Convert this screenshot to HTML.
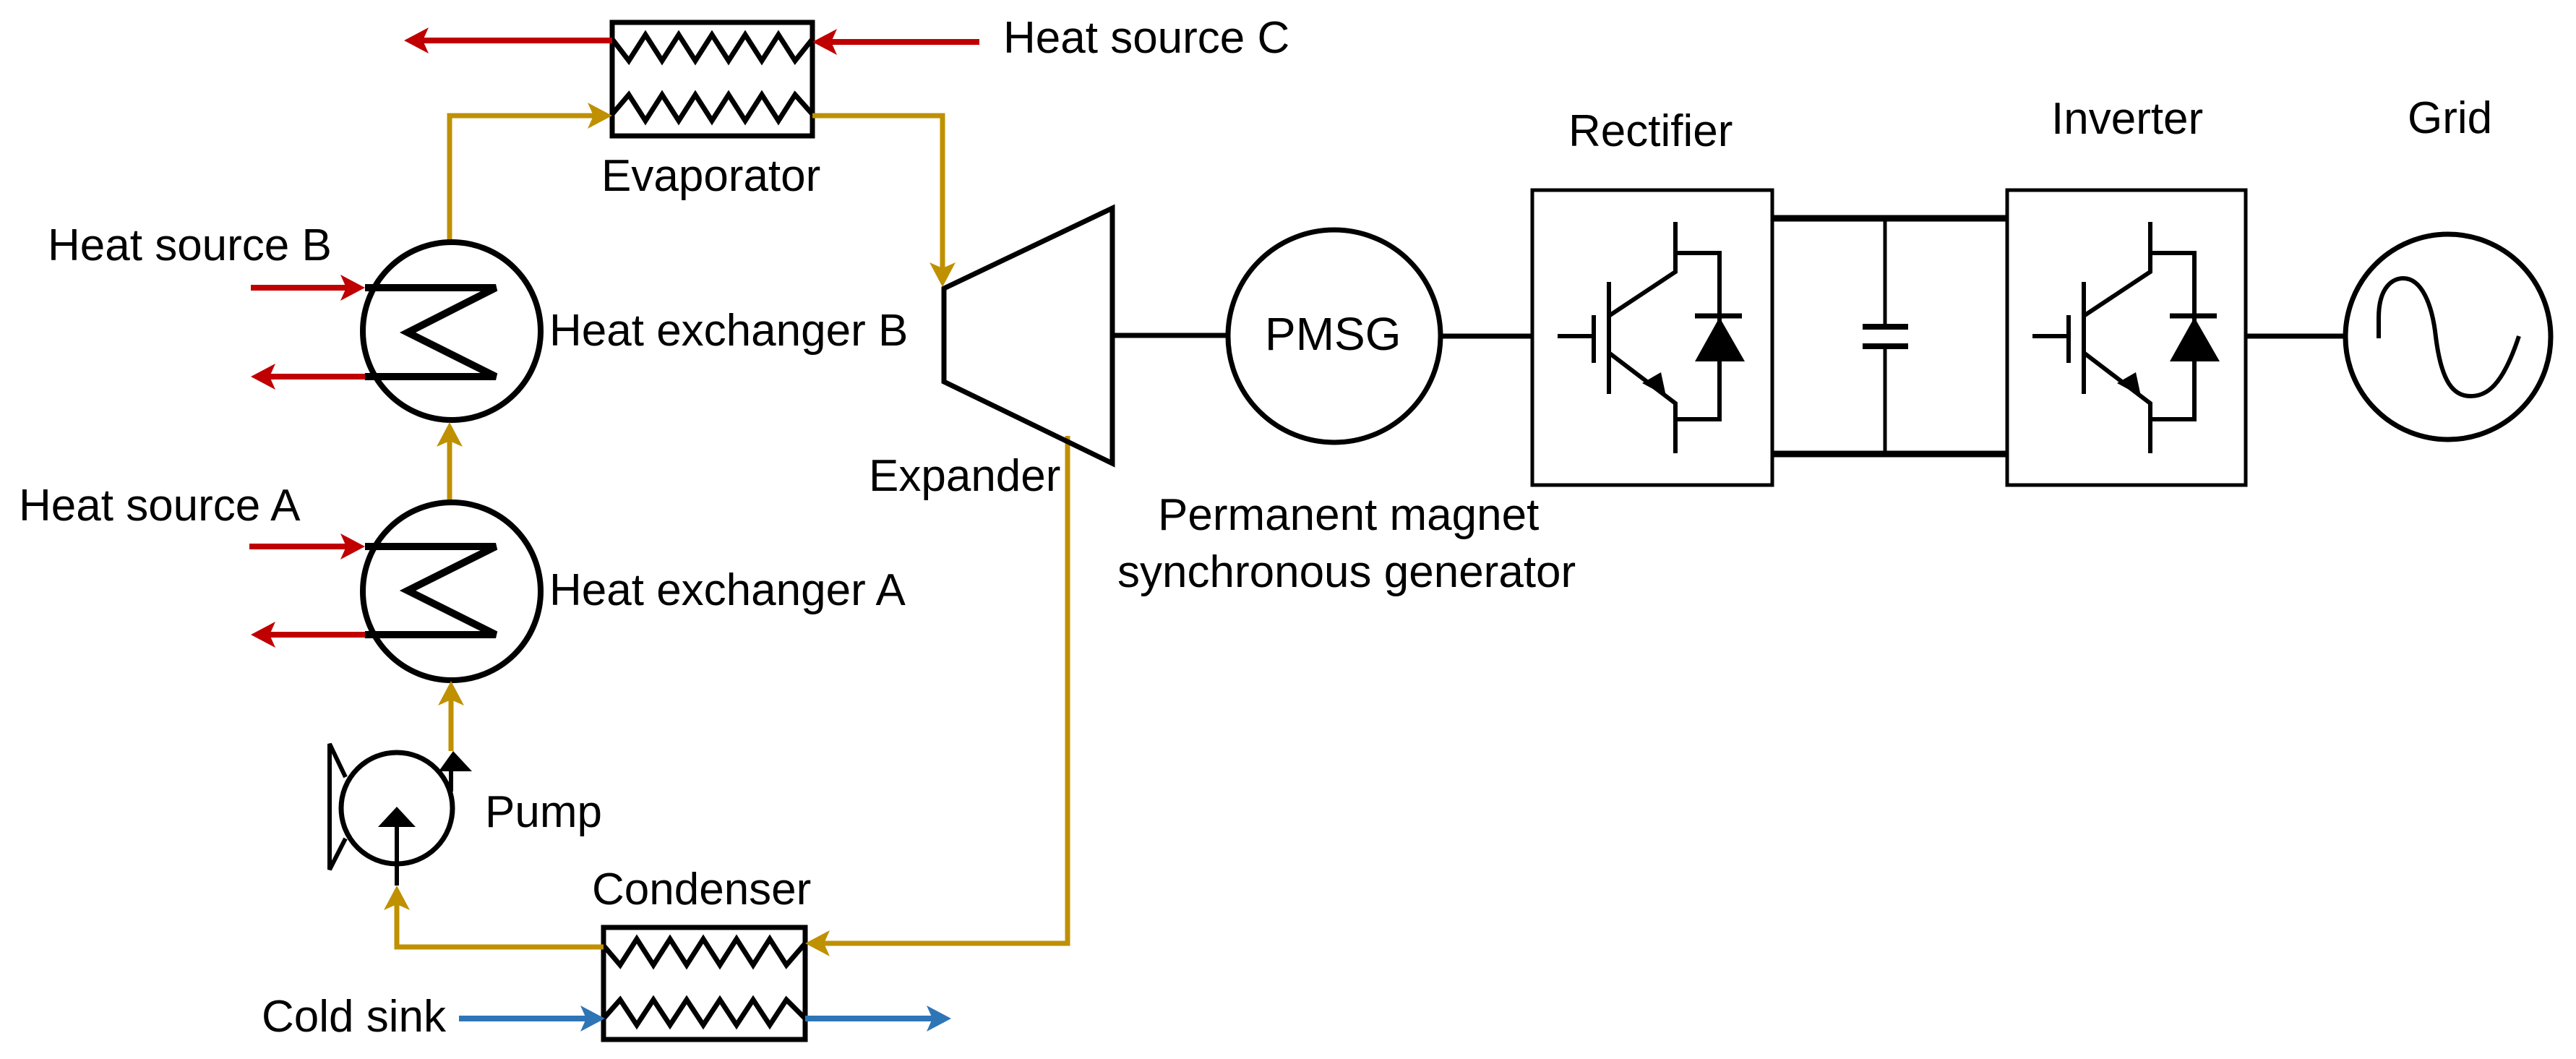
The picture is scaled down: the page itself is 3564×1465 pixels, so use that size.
<!DOCTYPE html>
<html><head><meta charset="utf-8"><style>html,body{margin:0;padding:0;background:#fff}svg{display:block}text{font-family:"Liberation Sans",Arial,sans-serif;font-size:62px;fill:#000}</style></head>
<body>
<svg width="3564" height="1465" viewBox="0 0 3564 1465" xmlns="http://www.w3.org/2000/svg">
<g fill="none" stroke-linejoin="miter">
<rect x="847" y="31" width="277" height="157" stroke="#000" stroke-width="7"/>
<polyline points="847,54 870,84 893,48 916,84 939,48 962,84 985,48 1008,84 1031,48 1054,84 1077,48 1100,84 1124,54" stroke="#000" stroke-width="7"/>
<polyline points="847,158 870,131 893,167 916,131 939,167 962,131 985,167 1008,131 1031,167 1054,131 1077,167 1100,131 1124,158" stroke="#000" stroke-width="7"/>
<rect x="835" y="1283" width="279" height="155" stroke="#000" stroke-width="7"/>
<polyline points="835,1308 858,1335 881,1299 904,1335 927,1299 950,1335 973,1299 996,1335 1019,1299 1042,1335 1065,1299 1088,1335 1114,1305" stroke="#000" stroke-width="7"/>
<polyline points="835,1409 858,1383 881,1418 904,1383 927,1418 950,1383 973,1418 996,1383 1019,1418 1042,1383 1065,1418 1088,1383 1114,1409" stroke="#000" stroke-width="7"/>
<g stroke="#C00000" stroke-width="8">
<line x1="847" y1="56" x2="580" y2="56"/>
<line x1="1355" y1="58" x2="1150" y2="58"/>
<line x1="347" y1="398" x2="480" y2="398"/>
<line x1="505" y1="521" x2="372" y2="521"/>
<line x1="345" y1="756" x2="480" y2="756"/>
<line x1="505" y1="878" x2="372" y2="878"/>
</g>
<g stroke="#2E75B6" stroke-width="8">
<line x1="635" y1="1409" x2="812" y2="1409"/>
<line x1="1114" y1="1409" x2="1292" y2="1409"/>
</g>
<g stroke="#BF9000" stroke-width="7">
<polyline points="622,333 622,160 822,160"/>
<polyline points="1124,160 1304,160 1304,372"/>
<line x1="622" y1="693" x2="622" y2="610"/>
<line x1="624" y1="1039" x2="624" y2="968"/>
<polyline points="1477,603 1477,1305 1140,1305"/>
<polyline points="835,1310 549,1310 549,1250"/>
</g>
<circle cx="625" cy="458" r="123" stroke="#000" stroke-width="8"/>
<polyline points="505,398 686,398 564,460 686,521 505,521" stroke="#000" stroke-width="10"/>
<circle cx="625" cy="818" r="123" stroke="#000" stroke-width="8"/>
<polyline points="505,756 686,756 564,817 686,878 505,878" stroke="#000" stroke-width="10"/>
<circle cx="549" cy="1118" r="77" stroke="#000" stroke-width="7"/>
<polyline points="478,1075 456,1029 456,1203 478,1160" stroke="#000" stroke-width="6"/>
<line x1="624" y1="1060" x2="624" y2="1095" stroke="#000" stroke-width="6"/>
<line x1="549" y1="1225" x2="549" y2="1140" stroke="#000" stroke-width="6"/>
<polygon points="1306,399 1539,288 1539,641 1306,528" stroke="#000" stroke-width="7"/>
<line x1="1539" y1="464" x2="1698" y2="464" stroke="#000" stroke-width="7"/>
<circle cx="1846" cy="465" r="147" stroke="#000" stroke-width="7"/>
<line x1="1993" y1="465" x2="2120" y2="465" stroke="#000" stroke-width="7"/>
<rect x="2120" y="263" width="332" height="408" stroke="#000" stroke-width="5"/>
<rect x="2777" y="263" width="330" height="408" stroke="#000" stroke-width="5"/>
<line x1="2452" y1="302" x2="2777" y2="302" stroke="#000" stroke-width="9"/>
<line x1="2452" y1="628" x2="2777" y2="628" stroke="#000" stroke-width="9"/>
<polyline points="2608,302 2608,452" stroke="#000" stroke-width="5"/>
<polyline points="2608,479 2608,628" stroke="#000" stroke-width="5"/>
<line x1="2577" y1="452" x2="2640" y2="452" stroke="#000" stroke-width="8"/>
<line x1="2577" y1="479" x2="2640" y2="479" stroke="#000" stroke-width="8"/>
<line x1="3107" y1="465" x2="3245" y2="465" stroke="#000" stroke-width="7"/>
<circle cx="3387" cy="466" r="142" stroke="#000" stroke-width="7"/>
<path d="M3291,468 L3291,440 C3291,395 3312,385 3325,385 C3350,385 3365,420 3370,466 C3378,530 3395,548 3418,548 C3440,548 3462,535 3485,465" stroke="#000" stroke-width="6" fill="none"/>
</g>
<g id="igbt" fill="none" stroke="#000" stroke-width="6">
<line x1="2155" y1="465" x2="2205" y2="465"/>
<line x1="2205" y1="436" x2="2205" y2="502"/>
<line x1="2226" y1="390" x2="2226" y2="545"/>
<polyline points="2226,437 2318,376 2318,307"/>
<polyline points="2318,376 2318,350 2379,350 2379,580 2318,580"/>
<polyline points="2226,488 2318,558 2318,627"/>
<line x1="2345" y1="437" x2="2410" y2="437" stroke-width="7"/>
<polygon points="2379,439 2345,500 2414,500" fill="#000" stroke="none"/>
<polygon points="2305,548 2272,530 2298,515" fill="#000" stroke="none"/>
</g>
<use href="#igbt" transform="translate(657,0)"/>
<g fill="#C00000">
<polygon points="559,56 593,38 585,56 593,74"/>
<polygon points="1124,58 1158,40 1150,58 1158,76"/>
<polygon points="505,398 471,380 479,398 471,416"/>
<polygon points="347,521 381,503 373,521 381,539"/>
<polygon points="505,756 471,738 479,756 471,774"/>
<polygon points="347,878 381,860 373,878 381,896"/>
</g>
<g fill="#2E75B6">
<polygon points="837,1409 803,1391 811,1409 803,1427"/>
<polygon points="1316,1409 1282,1391 1290,1409 1282,1427"/>
</g>
<g fill="#BF9000">
<polygon points="847,160 813,142 821,160 813,178"/>
<polygon points="1304,397 1286,363 1304,371 1322,363"/>
<polygon points="622,584 604,618 622,610 640,618"/>
<polygon points="624,942 606,976 624,968 642,976"/>
<polygon points="1114,1305 1148,1287 1140,1305 1148,1323"/>
<polygon points="549,1225 531,1259 549,1251 567,1259"/>
</g>
<g fill="#000">
<polygon points="627,1039 607,1067 653,1067"/>
<polygon points="549,1116 523,1144 575,1144"/>
</g>
<text x="1388" y="73">Heat source C</text>
<text x="832" y="264">Evaporator</text>
<text x="66" y="360">Heat source B</text>
<text x="760" y="478">Heat exchanger B</text>
<text x="1202" y="679">Expander</text>
<text x="26" y="720">Heat source A</text>
<text x="760" y="837">Heat exchanger A</text>
<text x="671" y="1144">Pump</text>
<text x="819" y="1251">Condenser</text>
<text x="362" y="1427">Cold sink</text>
<text x="1750" y="484" style="font-size:64px">PMSG</text>
<text x="1602" y="733">Permanent magnet</text>
<text x="1546" y="812">synchronous generator</text>
<text x="2170" y="202">Rectifier</text>
<text x="2838" y="185">Inverter</text>
<text x="3331" y="184">Grid</text>
</svg>
</body></html>
